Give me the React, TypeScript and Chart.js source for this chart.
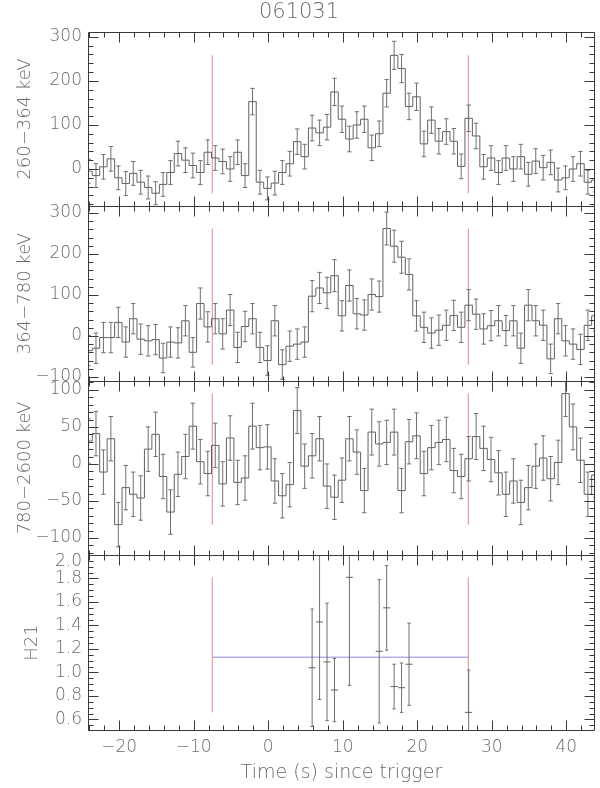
import React, { useEffect, useRef } from 'react';
import { Chart, registerables } from 'chart.js';

Chart.register(...registerables);

// ---------- data ----------
const TIME = [
  -24.1, -23.1, -22.1, -21.1, -20.1, -19.1, -18.1, -17.1, -16.1, -15.1, -14.1, -13.1,
  -12.1, -11.1, -10.1, -9.1, -8.1, -7.1, -6.1, -5.1, -4.1, -3.1, -2.1, -1.1, -0.1,
  0.9, 1.9, 2.9, 3.9, 4.9, 5.9, 6.9, 7.9, 8.9, 9.9, 10.9, 11.9, 12.9, 13.9, 14.9,
  15.9, 16.9, 17.9, 18.9, 19.9, 20.9, 21.9, 22.9, 23.9, 24.9, 25.9, 26.9, 27.9, 28.9,
  29.9, 30.9, 31.9, 32.9, 33.9, 34.9, 35.9, 36.9, 37.9, 38.9, 39.9, 40.9, 41.9, 42.9, 43.9,
];

const RATE_260_364 = [
  -5, -15, 5, 23, -20, -33, -10, -30, -42, -55, -35, -8, 35, 20, 8, -8, 38, 25, 17, 0, 38, -15, 153, -30,
  -44, -32, -8, 12, 62, 28, 93, 82, 95, 175, 113, 68, 100, 113, 48, 80, 172, 258, 228, 142, 164, 57, 111, 63,
  85, 63, 6, 115, 75, 5, 25, -8, 25, 0, 28, -12, 18, 3, 15, -25, -20, 0, 12, -30, -25,
];
const ERR_260_364 = [
  27, 27, 28, 28, 27, 27, 27, 27, 26, 26, 27, 27, 28, 28, 28, 27, 28, 28, 28, 28, 28, 27, 30, 27,
  26, 27, 27, 28, 29, 28, 29, 29, 29, 31, 30, 29, 30, 30, 29, 29, 31, 32, 32, 30, 31, 29, 30, 29,
  29, 29, 28, 30, 29, 28, 28, 27, 28, 28, 28, 27, 28, 28, 28, 27, 27, 28, 28, 27, 27,
];

const RATE_364_780 = [
  -36, -30, -4, -4, 33, -15, 42, -8, -12, -9, -54, -15, -17, 37, -40, 79, 22, 42, 5, 63, -28, 23, 42, -28,
  -60, 37, -70, -25, -20, -15, 97, 117, 105, 147, 49, 123, 54, 51, 101, 96, 262, 219, 192, 150, 49, 21, 7, 14,
  26, 50, 21, 75, 53, 17, 25, 37, 13, 37, -30, 75, 37, 26, -56, 42, -12, -20, -33, 26, 49,
];
const ERR_364_780 = [
  37, 37, 37, 37, 37, 37, 37, 37, 37, 37, 36, 37, 37, 37, 36, 38, 37, 37, 37, 38, 37, 37, 37, 37,
  36, 37, 36, 37, 37, 37, 38, 38, 38, 39, 37, 38, 37, 37, 38, 38, 40, 39, 39, 38, 37, 37, 37, 37,
  37, 37, 37, 38, 37, 37, 37, 37, 37, 37, 37, 38, 37, 37, 36, 37, 37, 37, 37, 37, 37,
];

const RATE_780_2600 = [
  31, 41, -11, 34, -82, -32, -41, -46, 20, 40, -17, -65, -14, 10, 51, 3, -13, 25, -27, 35, -25, -19, 51, 22,
  23, -23, -43, -28, 72, -3, 11, 34, -30, -45, -22, 34, 16, -36, 43, 27, 29, 43, -36, 30, 38, -13, 22, 29,
  33, -9, -17, 7, 37, 21, 6, -12, -41, -23, -52, -32, -3, 8, -20, 2, 95, 50, 5, -41, -15,
];
const ERR_780_2600 = [
  30, 30, 30, 30, 30, 30, 30, 30, 30, 30, 30, 30, 30, 30, 31, 30, 30, 30, 30, 30, 30, 30, 31, 30,
  30, 30, 30, 30, 31, 30, 30, 30, 30, 30, 30, 30, 30, 30, 31, 30, 30, 31, 30, 30, 31, 30, 30, 30,
  30, 30, 30, 30, 31, 30, 30, 30, 30, 30, 30, 30, 30, 30, 30, 30, 31, 31, 30, 30, 30,
];

const H21_TIME = [5.9, 6.9, 7.9, 8.9, 10.9, 14.9, 15.9, 16.9, 17.9, 18.9, 26.9];
const H21 = [1.04, 1.43, 1.09, 0.85, 1.81, 1.18, 1.55, 0.88, 0.87, 1.07, 0.66];
const H21_ERR = [0.5, 0.66, 0.5, 0.27, 0.92, 0.61, 0.36, 0.19, 0.21, 0.35, 0.36];
const H21_MEAN = 1.13;

const T_START = -7.5;
const T_END = 26.85;

const X_RANGE = [-24.17, 43.85];
const Y_TICKS_260_364 = { min: -84, max: 311, step: 100, minor: 20 };
const Y_TICKS_364_780 = { min: -110, max: 317, step: 100, minor: 20 };
const Y_TICKS_780_2600 = { min: -123, max: 112, step: 50, minor: 10 };
const Y_TICKS_H21 = { min: 0.51, max: 2.0, step: 0.2, minor: 0.05 };

const TITLE = '061031';
const X_TITLE = 'Time (s) since trigger';

// ---------- styles ----------
const FONT = "'DejaVu Sans', 'Liberation Sans', sans-serif";
const TEXT = '#6a6a6a';
const FRAME = '#3a3a3a';
const LINE = '#626262';
const EB = '#707070';
const RED = '#e48888';
const BLUE = '#8a8ae2';

const fmtNum = (v: number, digits: number) => {
  const s = digits > 0 ? Math.abs(v).toFixed(digits) : String(Math.round(Math.abs(v)));
  return v < -1e-9 ? '\u2212' + s : s;
};

// tick values that fall on whole multiples of the step inside [min, max]
const tickValues = (min: number, max: number, step: number) => {
  const out: number[] = [];
  for (let i = Math.ceil(min / step - 1e-9); i * step <= max + 1e-9; i++) {
    out.push(Math.round(i * step * 1e6) / 1e6);
  }
  return out;
};

const frameTicks = {
  id: 'frameTicks',
  afterDraw(chart: any, _args: any, opts: any) {
    const { ctx, chartArea } = chart;
    const xs = chart.scales.x;
    const ys = chart.scales.y;
    const L = Math.round(chartArea.left) + 0.5;
    const R = Math.round(chartArea.right) - 0.5;
    const T = Math.round(chartArea.top) + 0.5;
    const B = Math.round(chartArea.bottom) + 0.5;
    const MAJ = 10;
    const MIN = 5;
    ctx.save();
    ctx.strokeStyle = FRAME;
    ctx.lineWidth = 1;
    ctx.beginPath();
    ctx.rect(L, T, R - L, B - T);
    const xPer = Math.round(opts.xMajor / opts.xMinor);
    for (let i = Math.ceil(xs.min / opts.xMinor - 1e-9); i * opts.xMinor <= xs.max + 1e-9; i++) {
      const px = Math.round(xs.getPixelForValue(i * opts.xMinor)) + 0.5;
      const len = i % xPer === 0 ? MAJ : MIN;
      ctx.moveTo(px, B);
      ctx.lineTo(px, B - len);
      ctx.moveTo(px, T);
      ctx.lineTo(px, T + len);
    }
    const yPer = Math.round(opts.yMajor / opts.yMinor);
    for (let i = Math.ceil(ys.min / opts.yMinor - 1e-9); i * opts.yMinor <= ys.max + 1e-9; i++) {
      const py = Math.round(ys.getPixelForValue(i * opts.yMinor)) + 0.5;
      const len = i % yPer === 0 ? MAJ : MIN;
      ctx.moveTo(L, py);
      ctx.lineTo(L + len, py);
      ctx.moveTo(R, py);
      ctx.lineTo(R - len, py);
    }
    ctx.stroke();
    ctx.restore();
  },
};

type Panel = {
  label: string;
  values: number[];
  errors: number[];
  times: number[];
  yt: { min: number; max: number; step: number; minor: number };
  digits: number;
  padTop: number;
  padBottom: number;
  titlePad: number;
  hist: boolean;
};

const PANELS: Panel[] = [
  { label: '260\u2212364 keV', values: RATE_260_364, errors: ERR_260_364, times: TIME, yt: Y_TICKS_260_364, digits: 0, padTop: 0, padBottom: 582, titlePad: 15, hist: true },
  { label: '364\u2212780 keV', values: RATE_364_780, errors: ERR_364_780, times: TIME, yt: Y_TICKS_364_780, digits: 0, padTop: 206, padBottom: 407, titlePad: 15, hist: true },
  { label: '780\u22122600 keV', values: RATE_780_2600, errors: ERR_780_2600, times: TIME, yt: Y_TICKS_780_2600, digits: 0, padTop: 381, padBottom: 233, titlePad: 15, hist: true },
  { label: 'H21', values: H21, errors: H21_ERR, times: H21_TIME, yt: Y_TICKS_H21, digits: 1, padTop: 555, padBottom: 0, titlePad: 22, hist: false },
];

function buildDatasets(p: Panel) {
  const ds: any[] = [];
  const errPts: any[] = [];
  p.times.forEach((t, i) => {
    errPts.push({ x: t, y: p.values[i] - p.errors[i] });
    errPts.push({ x: t, y: p.values[i] + p.errors[i] });
    errPts.push({ x: t, y: null });
  });
  if (p.hist) {
    ds.push({
      type: 'line',
      data: p.times.map((t, i) => ({ x: t, y: p.values[i] })),
      stepped: 'middle',
      borderColor: LINE,
      borderWidth: 1,
      pointRadius: 0,
      fill: false,
    });
  } else {
    ds.push({
      type: 'line',
      data: p.times.map((t, i) => ({ x: t, y: p.values[i] })),
      showLine: false,
      pointStyle: 'line',
      pointRadius: 3.5,
      pointBorderColor: LINE,
      pointBorderWidth: 1,
    });
  }
  ds.push({
    type: 'line',
    data: errPts,
    borderColor: EB,
    borderWidth: 1,
    spanGaps: false,
    pointStyle: 'line',
    pointRadius: p.hist ? 2.2 : 1.7,
    pointBorderColor: EB,
    pointBorderWidth: 1,
    fill: false,
  });
  const lo = Math.min(...p.values);
  const hi = Math.max(...p.values);
  ds.push({
    type: 'line',
    data: [
      { x: T_START, y: lo }, { x: T_START, y: hi }, { x: T_START, y: null },
      { x: T_END, y: lo }, { x: T_END, y: hi },
    ],
    borderColor: RED,
    borderWidth: 1,
    pointRadius: 0,
    spanGaps: false,
    fill: false,
  });
  if (!p.hist) {
    ds.push({
      type: 'line',
      data: [{ x: T_START, y: H21_MEAN }, { x: T_END, y: H21_MEAN }],
      borderColor: BLUE,
      borderWidth: 1,
      pointRadius: 0,
      fill: false,
    });
  }
  return ds;
}

function buildConfig(p: Panel, idx: number): any {
  const isFirst = idx === 0;
  const isLast = idx === PANELS.length - 1;
  const atTop = (v: number) => Math.abs(v - p.yt.max) < 1e-6;
  return {
    type: 'line',
    data: { datasets: buildDatasets(p) },
    options: {
      animation: false,
      responsive: false,
      devicePixelRatio: 1,
      events: [],
      layout: { padding: { left: 0, right: 2, top: p.padTop, bottom: p.padBottom } },
      plugins: {
        legend: { display: false },
        tooltip: { enabled: false },
        title: isFirst
          ? {
              display: true,
              text: TITLE,
              color: TEXT,
              font: { family: FONT, size: 21, weight: '200', lineHeight: 1.2 },
              padding: { top: 0, bottom: 6.8 },
            }
          : { display: false },
        frameTicks: { xMajor: 10, xMinor: 2, yMajor: p.yt.step, yMinor: p.yt.minor },
      },
      scales: {
        x: {
          type: 'linear',
          min: X_RANGE[0],
          max: X_RANGE[1],
          display: isLast,
          grid: { display: false, drawTicks: false },
          border: { display: false },
          afterBuildTicks: (s: any) => {
            s.ticks = tickValues(X_RANGE[0], X_RANGE[1], 10).map((v) => ({ value: v }));
          },
          ticks: {
            autoSkip: false,
            maxRotation: 0,
            padding: 7,
            color: TEXT,
            font: { family: FONT, size: 17, weight: '200' },
            callback: (v: any) => fmtNum(Number(v), 0),
          },
          title: {
            display: isLast,
            text: X_TITLE,
            color: TEXT,
            font: { family: FONT, size: 19, weight: '200' },
            padding: { top: 0, bottom: 3.6 },
          },
          afterFit: (s: any) => {
            if (isLast) s.height = 58;
          },
        },
        y: {
          type: 'linear',
          min: p.yt.min,
          max: p.yt.max,
          grid: { display: false, drawTicks: false },
          border: { display: false },
          afterBuildTicks: (s: any) => {
            s.ticks = tickValues(p.yt.min, p.yt.max, p.yt.step).map((v) => ({ value: v }));
          },
          ticks: {
            autoSkip: false,
            padding: 6,
            color: TEXT,
            font: (c: any) => ({
              family: FONT,
              size: 17,
              weight: '200',
              lineHeight: c.tick && atTop(c.tick.value) ? '12.4px' : 1.2,
            }),
            // a label sitting on the top edge is pushed down inside the frame
            callback: (v: any) => (atTop(Number(v)) ? ['', fmtNum(Number(v), p.digits)] : fmtNum(Number(v), p.digits)),
          },
          title: {
            display: true,
            text: p.label,
            color: TEXT,
            font: { family: FONT, size: 18, weight: '200' },
            padding: { top: p.titlePad, bottom: 0 },
          },
          afterFit: (s: any) => {
            s.width = 88;
          },
        },
      },
    },
    plugins: [frameTicks],
  };
}

export default function App() {
  const r0 = useRef<HTMLCanvasElement>(null);
  const r1 = useRef<HTMLCanvasElement>(null);
  const r2 = useRef<HTMLCanvasElement>(null);
  const r3 = useRef<HTMLCanvasElement>(null);
  const refs = [r0, r1, r2, r3];

  useEffect(() => {
    const charts = PANELS.map((p, i) => new Chart(refs[i].current as HTMLCanvasElement, buildConfig(p, i)));
    return () => charts.forEach((c) => c.destroy());
  }, []);

  return (
    <div style={{ position: 'absolute', left: 0, top: 0, width: 600, height: 788, background: '#ffffff' }}>
      {refs.map((r, i) => (
        <canvas
          key={i}
          ref={r}
          width={600}
          height={788}
          style={{ position: 'absolute', left: 0, top: 0, width: 600, height: 788 }}
        />
      ))}
    </div>
  );
}
